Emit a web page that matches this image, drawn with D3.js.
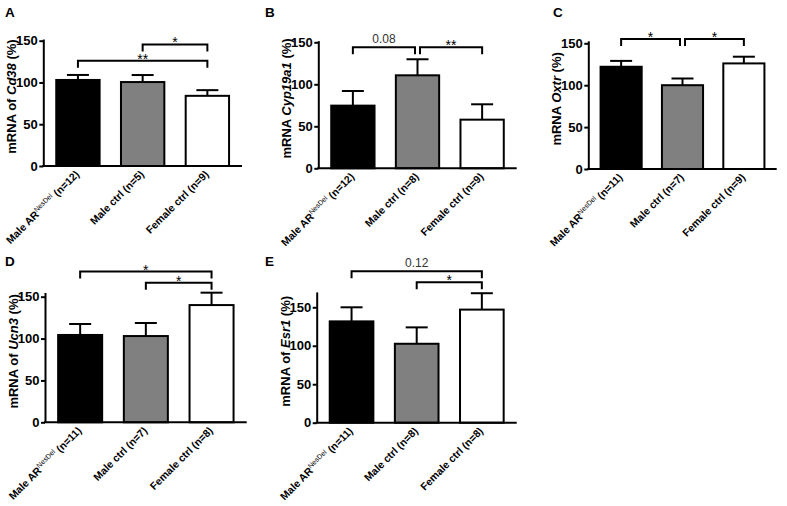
<!DOCTYPE html>
<html><head><meta charset="utf-8">
<script src="https://cdn.jsdelivr.net/npm/d3@7"></script>
<style>
body{margin:0;background:#fff;}
svg{display:block;font-family:"Liberation Sans",Arial,sans-serif;}
</style></head>
<body><svg id="c" width="787" height="506"></svg>
<script>
// ---- data ----
const groups = ["Male AR", "Male ctrl", "Female ctrl"];
const supText = ["NesDel", "", ""];
const yTicks = [0, 50, 100, 150];

const nA = [12, 5, 9];
const meanA = [103, 100.5, 84];
const semA = [6, 8.4, 6.8];
const sigA = [[0, 2, 126, "**"], [1, 2, 145.5, "*"]];

const nB = [12, 8, 9];
const meanB = [74.6, 110.7, 57.9];
const semB = [17.4, 19.1, 18.3];
const sigB = [[0, 1, 144, "0.08"], [1, 2, 144, "**"]];

const nC = [11, 7, 9];
const meanC = [122, 100, 126];
const semC = [7, 8, 8];
const sigC = [[0, 1, 155, "*"], [1, 2, 155, "*"]];

const nD = [11, 7, 8];
const meanD = [104.3, 103, 140];
const semD = [13.1, 15.6, 14.8];
const sigD = [[0, 2, 180, "*"], [1, 2, 166.7, "*"]];

const nE = [11, 8, 8];
const meanE = [131.7, 102.6, 147];
const semE = [18.3, 21.3, 21.3];
const sigE = [[0, 2, 197, "0.12"], [1, 2, 182.6, "*"]];

const fills = ["#000000", "#808080", "#ffffff"];

// ---- layout ----
const panels = [
  {id:"A", prefix:"mRNA of ", gene:"Cd38", n:nA, mean:meanA, sem:semA, sig:sigA, max:152, x0:43.3, x1:242, y0:166, y150:40.7, lx:5, ly:17},
  {id:"B", prefix:"mRNA ", gene:"Cyp19a1", n:nB, mean:meanB, sem:semB, sig:sigB, max:152, x0:318.3, x1:516.7, y0:168.3, y150:42.3, lx:265, ly:16.5},
  {id:"C", prefix:"mRNA ", gene:"Oxtr", n:nC, mean:meanC, sem:semC, sig:sigC, max:153, x0:588.3, x1:776.7, y0:169, y150:43.3, lx:553, ly:16.5},
  {id:"D", prefix:"mRNA of ", gene:"Ucn3", n:nD, mean:meanD, sem:semD, sig:sigD, max:155, x0:45, x1:246.7, y0:422.3, y150:296.7, lx:5, ly:266},
  {id:"E", prefix:"mRNA of ", gene:"Esr1", n:nE, mean:meanE, sem:semE, sig:sigE, max:170, x0:316.7, x1:516.7, y0:422.7, y150:307.3, lx:265, ly:266}
];

const svg = d3.select("#c");
const FF = "'Liberation Sans',Arial,sans-serif";

panels.forEach(p => {
  const g = svg.append("g");
  const pxPerUnit = (p.y0 - p.y150) / 150;
  const y = d3.scaleLinear().domain([0, p.max]).range([p.y0, p.y0 - p.max * pxPerUnit]);
  const x = d3.scaleBand().domain(groups).range([p.x0, p.x1]).paddingInner(0.33).paddingOuter(0.2);

  // panel letter
  g.append("text").attr("x", p.lx).attr("y", p.ly).style("font-size", "13.5px").attr("font-weight", "bold").text(p.id);

  // bars
  g.selectAll("rect.bar").data(groups).join("rect")
    .attr("x", d => x(d)).attr("width", x.bandwidth())
    .attr("y", (d, i) => y(p.mean[i])).attr("height", (d, i) => y(0) - y(p.mean[i]))
    .attr("fill", (d, i) => fills[i]).attr("stroke", "#000").attr("stroke-width", 2);

  // error bars (upper)
  groups.forEach((d, i) => {
    const cx = x(d) + x.bandwidth() / 2;
    const top = y(p.mean[i] + p.sem[i]);
    g.append("line").attr("x1", cx).attr("x2", cx).attr("y1", y(p.mean[i])).attr("y2", top)
      .attr("stroke", "#000").attr("stroke-width", 2);
    g.append("line").attr("x1", cx - 11).attr("x2", cx + 11).attr("y1", top).attr("y2", top)
      .attr("stroke", "#000").attr("stroke-width", 2);
  });

  // y axis
  const ya = g.append("g").attr("transform", `translate(${p.x0},0)`)
    .call(d3.axisLeft(y).tickValues(yTicks).tickFormat(d3.format("d")).tickSize(4).tickSizeOuter(0).tickPadding(1.5));
  ya.selectAll("path,line").attr("stroke", "#000").attr("stroke-width", 2);
  ya.selectAll("text").style("font-size", "13px").style("font-weight", "bold")
    .style("font-family", FF).attr("fill", "#000");

  // x axis line
  g.append("line").attr("x1", p.x0 - 1).attr("x2", p.x1).attr("y1", y(0)).attr("y2", y(0))
    .attr("stroke", "#000").attr("stroke-width", 2);

  // y label
  const ymid = (y(0) + y(p.max)) / 2 - 6;
  const yl = g.append("text").attr("transform", `translate(${p.x0 - 31.5},${ymid}) rotate(-90)`)
    .attr("text-anchor", "middle").attr("dy", "0.35em").style("font-size", "13px").attr("font-weight", "bold");
  yl.append("tspan").text(p.prefix);
  yl.append("tspan").attr("font-style", "italic").text(p.gene);
  yl.append("tspan").text(" (%)");

  // x labels
  groups.forEach((d, i) => {
    const cx = x(d) + x.bandwidth() / 2 + 2;
    const t = g.append("text").attr("transform", `translate(${cx},${y(0) + 9}) rotate(-45)`)
      .attr("text-anchor", "end").style("font-size", "10.5px").attr("font-weight", "bold");
    t.append("tspan").text(d);
    if (supText[i]) {
      t.append("tspan").style("font-size", "7px").attr("font-weight", "normal").attr("dy", -4).text(supText[i]);
      t.append("tspan").attr("dy", 4).text(` (n=${p.n[i]})`);
    } else {
      t.append("tspan").text(` (n=${p.n[i]})`);
    }
  });

  // significance brackets
  p.sig.forEach(s => {
    let xa = x(groups[s[0]]) + x.bandwidth() / 2;
    let xb = x(groups[s[1]]) + x.bandwidth() / 2;
    if (p.sig.some(o => o !== s && o[1] === s[0] && o[2] === s[2])) xa += 2.5;
    if (p.sig.some(o => o !== s && o[0] === s[1] && o[2] === s[2])) xb -= 2.5;
    const by = y(s[2]);
    g.append("path").attr("d", `M${xa},${by + 7}V${by}H${xb}V${by + 7}`)
      .attr("fill", "none").attr("stroke", "#000").attr("stroke-width", 2);
    const isNum = /\d/.test(s[3]);
    g.append("text").attr("x", (xa + xb) / 2).attr("y", isNum ? by - 4 : by + 3)
      .attr("text-anchor", "middle").style("font-size", isNum ? "12px" : "14px")
      .attr("fill", isNum ? "#333" : "#000").text(s[3]);
  });
});
</script>
</body></html>
